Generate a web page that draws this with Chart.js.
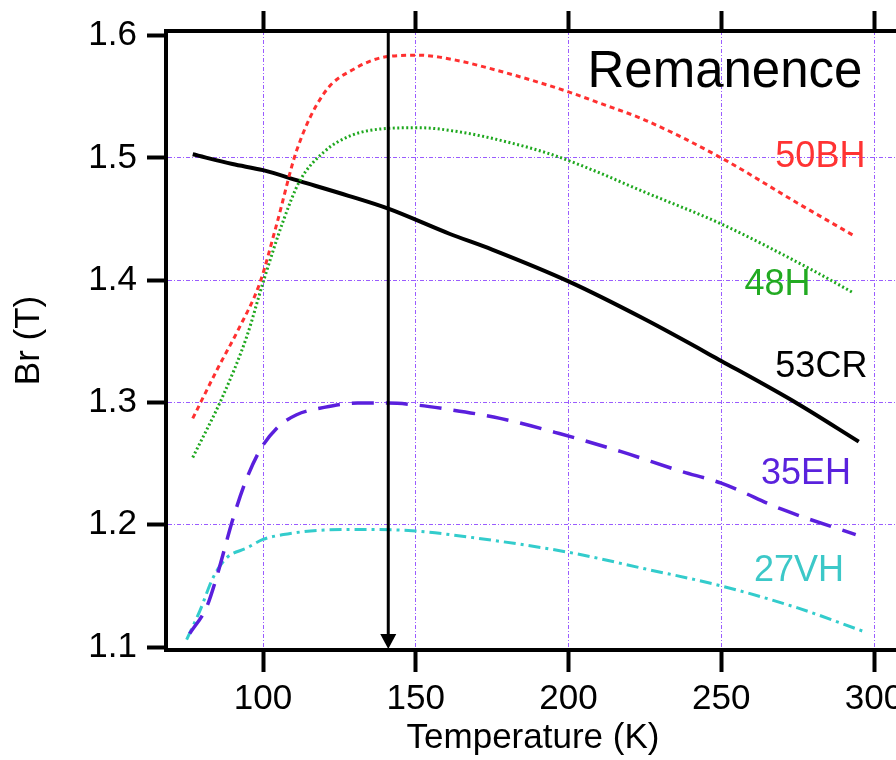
<!DOCTYPE html>
<html>
<head>
<meta charset="utf-8">
<title>Remanence</title>
<script src="https://cdn.jsdelivr.net/npm/chart.js@4.4.1/dist/chart.umd.min.js"></script>
<style>
    html, body { margin: 0; padding: 0; background: #fff; overflow: hidden; }
    #wrap { width: 920px; height: 760px; }
</style>
</head>
<body>
<div id="wrap"><canvas id="remChart" width="920" height="760"></canvas></div>
<script>
// ค่าที่อ่านได้: อุณหภูมิ (K) และ Br (T) ของแต่ละเกรดแม่เหล็ก
const t50BH = [77, 85, 92, 99, 104.5, 111, 120, 130, 141, 151, 163, 176, 190, 200, 210, 225, 250, 275, 293];
const br50BH = [1.287, 1.327, 1.360, 1.398, 1.446, 1.506, 1.553, 1.573, 1.583, 1.584, 1.580, 1.572, 1.562, 1.554, 1.545, 1.531, 1.500, 1.463, 1.437];

const t48H = [77, 87, 94.7, 100, 106.7, 112, 120, 128.5, 140, 151, 165, 180, 193, 204, 225, 250, 280, 293];
const br48H = [1.255, 1.306, 1.354, 1.398, 1.449, 1.481, 1.505, 1.518, 1.524, 1.5247, 1.521, 1.513, 1.504, 1.494, 1.472, 1.446, 1.408, 1.390];

const t53CR = [77, 90, 100, 112, 128, 141, 161, 175, 200, 225, 250, 275, 295];
const br53CR = [1.503, 1.495, 1.490, 1.481, 1.469, 1.4585, 1.438, 1.425, 1.399, 1.368, 1.334, 1.299, 1.268];

const t35EH = [76, 81.6, 84.8, 90.3, 94.7, 99, 104.5, 111, 120, 131, 141, 150, 159, 177.6, 197, 217, 236.5, 250, 270, 294];
const br35EH = [1.111, 1.133, 1.157, 1.206, 1.238, 1.261, 1.279, 1.290, 1.296, 1.2995, 1.2995, 1.298, 1.295, 1.287, 1.2746, 1.260, 1.244, 1.234, 1.2125, 1.192];

const t27VH = [75, 79.4, 83.7, 88.1, 94.7, 100, 106.7, 120, 134, 150, 161, 200, 225, 250, 275, 297];
const br27VH = [1.106, 1.130, 1.157, 1.173, 1.181, 1.188, 1.192, 1.1957, 1.1962, 1.1949, 1.192, 1.1775, 1.164, 1.150, 1.132, 1.1124];

// tick ของแกน
const tempTicks = [100, 150, 200, 250, 300];
const brTicks = [1.1, 1.2, 1.3, 1.4, 1.5, 1.6];

// เส้นลูกศรชี้อุณหภูมิ
const arrowTemp = 141;

const FONT = '"Liberation Sans", Arial, Helvetica, sans-serif';
const GRID_COLOR = '#9a5cff';
const FRAME_W = 4;

function toPoints(xs, ys) {
    return xs.map((x, i) => ({ x: x, y: ys[i] }));
}

function makeSeries(label, xs, ys, color, width, dash) {
    return {
        label: label,
        data: toPoints(xs, ys),
        borderColor: color,
        borderWidth: width,
        borderDash: dash,
        borderCapStyle: 'butt',
        pointRadius: 0,
        fill: false,
        cubicInterpolationMode: 'monotone'
    };
}

// ลูกศรแนวตั้งที่ 141 K
const arrowPlugin = {
    id: 'arrowMark',
    afterDatasetsDraw(chart) {
        const ctx = chart.ctx;
        const area = chart.chartArea;
        const x = chart.scales.x.getPixelForValue(arrowTemp);
        ctx.save();
        ctx.strokeStyle = '#000';
        ctx.fillStyle = '#000';
        ctx.lineWidth = 3;
        ctx.beginPath();
        ctx.moveTo(x, area.top);
        ctx.lineTo(x, area.bottom - 12);
        ctx.stroke();
        ctx.beginPath();
        ctx.moveTo(x, area.bottom - 1);
        ctx.lineTo(x - 8, area.bottom - 16);
        ctx.lineTo(x + 8, area.bottom - 16);
        ctx.closePath();
        ctx.fill();
        ctx.restore();
    }
};

// ชื่อเกรดและหัวข้อในกราฟ (ตำแหน่งเป็นค่า K, T)
const textNotes = [
    { text: 'Remanence', t: 206.2, b: 1.5582, color: '#000', size: 51 },
    { text: '50BH', t: 267.7, b: 1.4925, color: '#ff3333', size: 36 },
    { text: '48H', t: 257.6, b: 1.3879, color: '#22aa22', size: 36 },
    { text: '53CR', t: 267.7, b: 1.3206, color: '#000', size: 36 },
    { text: '35EH', t: 263.0, b: 1.2330, color: '#5a22dd', size: 36 },
    { text: '27VH', t: 260.7, b: 1.1543, color: '#3cc8c8', size: 36 }
];

const notePlugin = {
    id: 'notes',
    afterDraw(chart) {
        const ctx = chart.ctx;
        const xs = chart.scales.x;
        const ys = chart.scales.y;
        ctx.save();
        ctx.textAlign = 'left';
        ctx.textBaseline = 'alphabetic';
        textNotes.forEach(n => {
            ctx.font = n.size + 'px ' + FONT;
            ctx.fillStyle = n.color;
            ctx.fillText(n.text, xs.getPixelForValue(n.t), ys.getPixelForValue(n.b));
        });
        ctx.restore();
    }
};

function renderRemanenceChart() {
    const ctx = document.getElementById('remChart').getContext('2d');
    new Chart(ctx, {
        type: 'line',
        data: {
            datasets: [
                makeSeries('50BH', t50BH, br50BH, '#ff3030', 3, [5, 4]),
                makeSeries('48H', t48H, br48H, '#1fa81f', 3, [2, 2.5]),
                makeSeries('53CR', t53CR, br53CR, '#000000', 4, []),
                makeSeries('35EH', t35EH, br35EH, '#5a1fdd', 3.5, [22, 12]),
                makeSeries('27VH', t27VH, br27VH, '#33cccc', 3, [12, 5, 3, 5])
            ]
        },
        options: {
            responsive: false,
            animation: false,
            layout: { padding: { left: 0, right: 20, top: 0, bottom: 0 } },
            plugins: {
                legend: { display: false },
                tooltip: { enabled: false }
            },
            scales: {
                x: {
                    type: 'linear',
                    position: 'bottom',
                    min: 68.25,
                    max: 308.5,
                    afterBuildTicks: (scale) => { scale.ticks = tempTicks.map(v => ({ value: v })); },
                    afterFit: (scale) => { scale.height = 110; },
                    ticks: {
                        color: '#000',
                        font: { family: FONT, size: 35 },
                        padding: 6,
                        maxRotation: 0
                    },
                    grid: {
                        color: GRID_COLOR,
                        lineWidth: 1,
                        tickLength: 22,
                        tickWidth: FRAME_W,
                        tickColor: '#000',
                        tickBorderDash: []
                    },
                    border: { display: true, color: '#000', width: FRAME_W, dash: [4, 2, 1, 2] },
                    title: {
                        display: true,
                        text: 'Temperature (K)',
                        color: '#000',
                        font: { family: FONT, size: 35 },
                        padding: { top: 0, bottom: 1 }
                    }
                },
                x2: {
                    type: 'linear',
                    position: 'top',
                    min: 68.25,
                    max: 308.5,
                    afterBuildTicks: (scale) => { scale.ticks = tempTicks.map(v => ({ value: v })); },
                    afterFit: (scale) => { scale.height = 26; },
                    ticks: { display: false },
                    grid: {
                        drawOnChartArea: false,
                        tickLength: 20,
                        tickWidth: FRAME_W,
                        tickColor: '#000',
                        tickBorderDash: []
                    },
                    border: { display: true, color: '#000', width: FRAME_W }
                },
                y: {
                    type: 'linear',
                    position: 'left',
                    min: 1.0976,
                    max: 1.6038,
                    afterBuildTicks: (scale) => { scale.ticks = brTicks.map(v => ({ value: v })); },
                    afterFit: (scale) => { scale.width = 166; },
                    ticks: {
                        color: '#000',
                        font: { family: FONT, size: 35 },
                        padding: 10,
                        callback: (v) => Number(v).toFixed(1)
                    },
                    grid: {
                        // ไม่วาดเส้นกริดที่ 1.1 และ 1.6 เพราะชิดกรอบ
                        color: (c) => (c.tick && (c.tick.value === 1.1 || c.tick.value === 1.6)) ? 'rgba(0,0,0,0)' : GRID_COLOR,
                        lineWidth: 1,
                        tickLength: 19,
                        tickWidth: FRAME_W,
                        tickColor: '#000',
                        tickBorderDash: []
                    },
                    border: { display: true, color: '#000', width: FRAME_W, dash: [4, 2, 1, 2] },
                    title: {
                        display: true,
                        text: 'Br (T)',
                        color: '#000',
                        font: { family: FONT, size: 35 },
                        padding: { top: 8, bottom: 0 }
                    }
                }
            }
        },
        plugins: [arrowPlugin, notePlugin]
    });
}

renderRemanenceChart();
</script>
</body>
</html>
